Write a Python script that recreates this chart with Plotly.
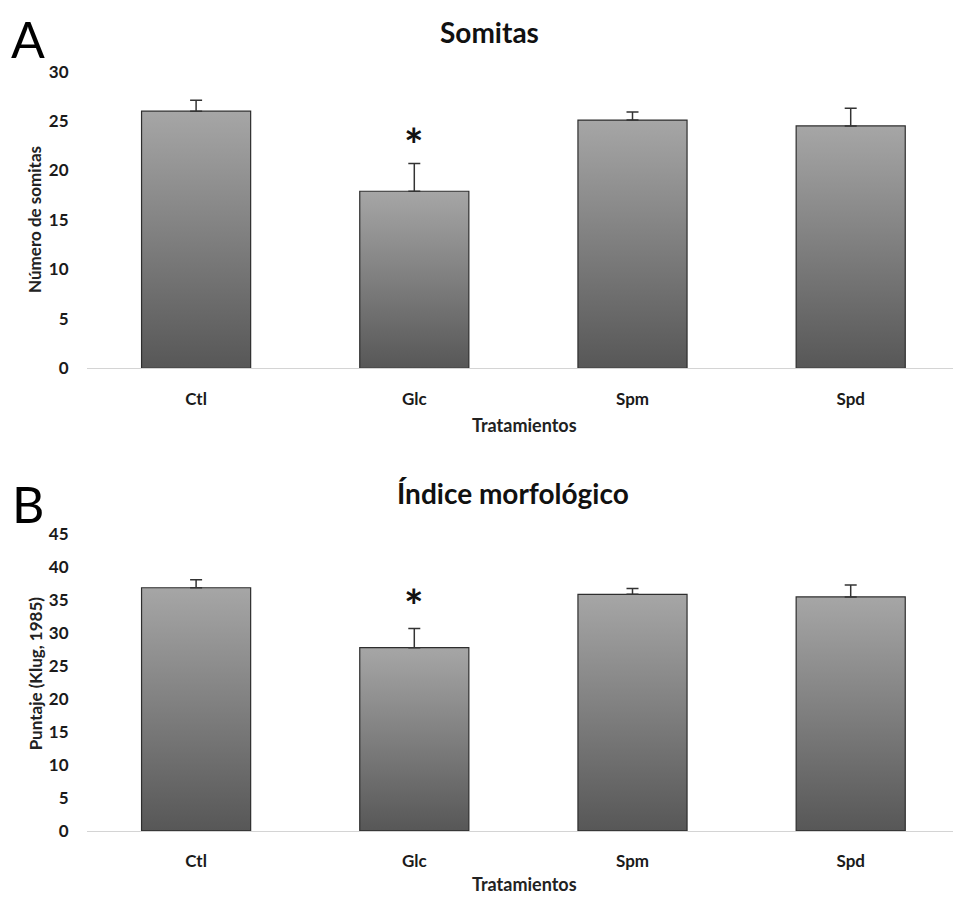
import plotly.graph_objects as go

categories = ["Ctl", "Glc", "Spm", "Spd"]
somitas = [26.0, 17.9, 25.1, 24.5]
somitas_err = [1.1, 2.8, 0.8, 1.8]
indice = [36.9, 27.8, 35.9, 35.5]
indice_err = [1.2, 2.9, 0.9, 1.8]
signif = [False, True, False, False]

FONT = "Lato"
W, H = 953, 911
BAR_W = 0.5

fig = go.Figure()

panels = [
    dict(vals=somitas, err=somitas_err, xa="x", ya="y", sig_off=1.9),
    dict(vals=indice, err=indice_err, xa="x2", ya="y2", sig_off=3.5),
]

for p in panels:
    for i, v in enumerate(p["vals"]):
        xs = [i - BAR_W / 2, i - BAR_W / 2, i + BAR_W / 2, i + BAR_W / 2, i - BAR_W / 2]
        ys = [0, v, v, 0, 0]
        fig.add_trace(go.Scatter(
            x=xs, y=ys, mode="lines", fill="toself",
            line=dict(color="#2e2e2e", width=1.2),
            fillgradient=dict(type="vertical",
                              colorscale=[[0, "#575757"], [1, "#a6a6a6"]]),
            xaxis=p["xa"], yaxis=p["ya"], showlegend=False, hoverinfo="skip"))
    fig.add_trace(go.Scatter(
        x=list(range(len(categories))), y=p["vals"], mode="markers",
        marker=dict(size=1, color="rgba(0,0,0,0)"),
        error_y=dict(type="data", symmetric=False, array=p["err"],
                     arrayminus=[0] * len(p["err"]), color="#333333",
                     thickness=1.5, width=6),
        xaxis=p["xa"], yaxis=p["ya"], showlegend=False, hoverinfo="skip"))
    for i, s in enumerate(signif):
        if s:
            fig.add_annotation(x=i, y=p["vals"][i] + p["err"][i] + p["sig_off"],
                               xref=p["xa"], yref=p["ya"], text="<b>*</b>",
                               showarrow=False, yanchor="middle",
                               font=dict(family=FONT, size=46, color="#111"))

x0 = 87 / W
top_dom = [1 - 365.7 / H, 1 - 62 / H]
bot_dom = [1 - 839.3 / H, 1 - 535.7 / H]
xrange = [-0.5, (W - 87) / 218.2 - 0.5]

TICKF = dict(family=FONT, size=17, color="#1a1a1a", weight="bold")
XTITLEF = dict(family=FONT, size=18, color="#222", weight="bold")
YTITLEF = dict(family=FONT, size=17, color="#222", weight="bold")

xcommon = dict(range=xrange, tickvals=list(range(4)), ticktext=categories,
               showline=True, linecolor="#d4d4d4", linewidth=1,
               ticks="outside", ticklen=15, tickcolor="rgba(0,0,0,0)",
               showgrid=False, zeroline=False, tickfont=TICKF)
ycommon = dict(showgrid=False, zeroline=False, showline=False,
               ticks="outside", ticklen=14, tickcolor="rgba(0,0,0,0)",
               tickfont=TICKF, dtick=5)

fig.update_layout(
    width=W, height=H, plot_bgcolor="white", paper_bgcolor="white",
    margin=dict(l=0, r=0, t=0, b=0),
    font=dict(family=FONT),
    xaxis=dict(domain=[x0, 1], anchor="y", **xcommon),
    yaxis=dict(domain=top_dom, anchor="x", range=[0, 30], **ycommon),
    xaxis2=dict(domain=[x0, 1], anchor="y2", **xcommon),
    yaxis2=dict(domain=bot_dom, anchor="x2", range=[0, 45], **ycommon),
)

def ann(x, y, text, font, angle=0):
    fig.add_annotation(x=x / W, y=1 - y / H, xref="paper", yref="paper",
                       text=text, showarrow=False, textangle=angle,
                       xanchor="center", yanchor="middle", font=font)

TT = dict(family=FONT, size=28, color="#111", weight="bold")
ann(489, 21, "Somitas", TT)
ann(513, 493, "Índice morfológico", TT)
ann(524, 424, "Tratamientos", XTITLEF)
ann(524, 894, "Tratamientos", XTITLEF)
ann(35, (62 + 365.7) / 2, "Número de somitas", YTITLEF, -90)
ann(35, 678, "Puntaje (Klug, 1985)", YTITLEF, -90)
AB = dict(family=FONT, size=50, color="#000")
ann(28, 29, "A", AB)
ann(28, 505, "B", AB)

fig.write_html("out.html", config={"displayModeBar": False},
               post_script="document.body.style.margin='0';document.body.style.overflow='hidden';")
